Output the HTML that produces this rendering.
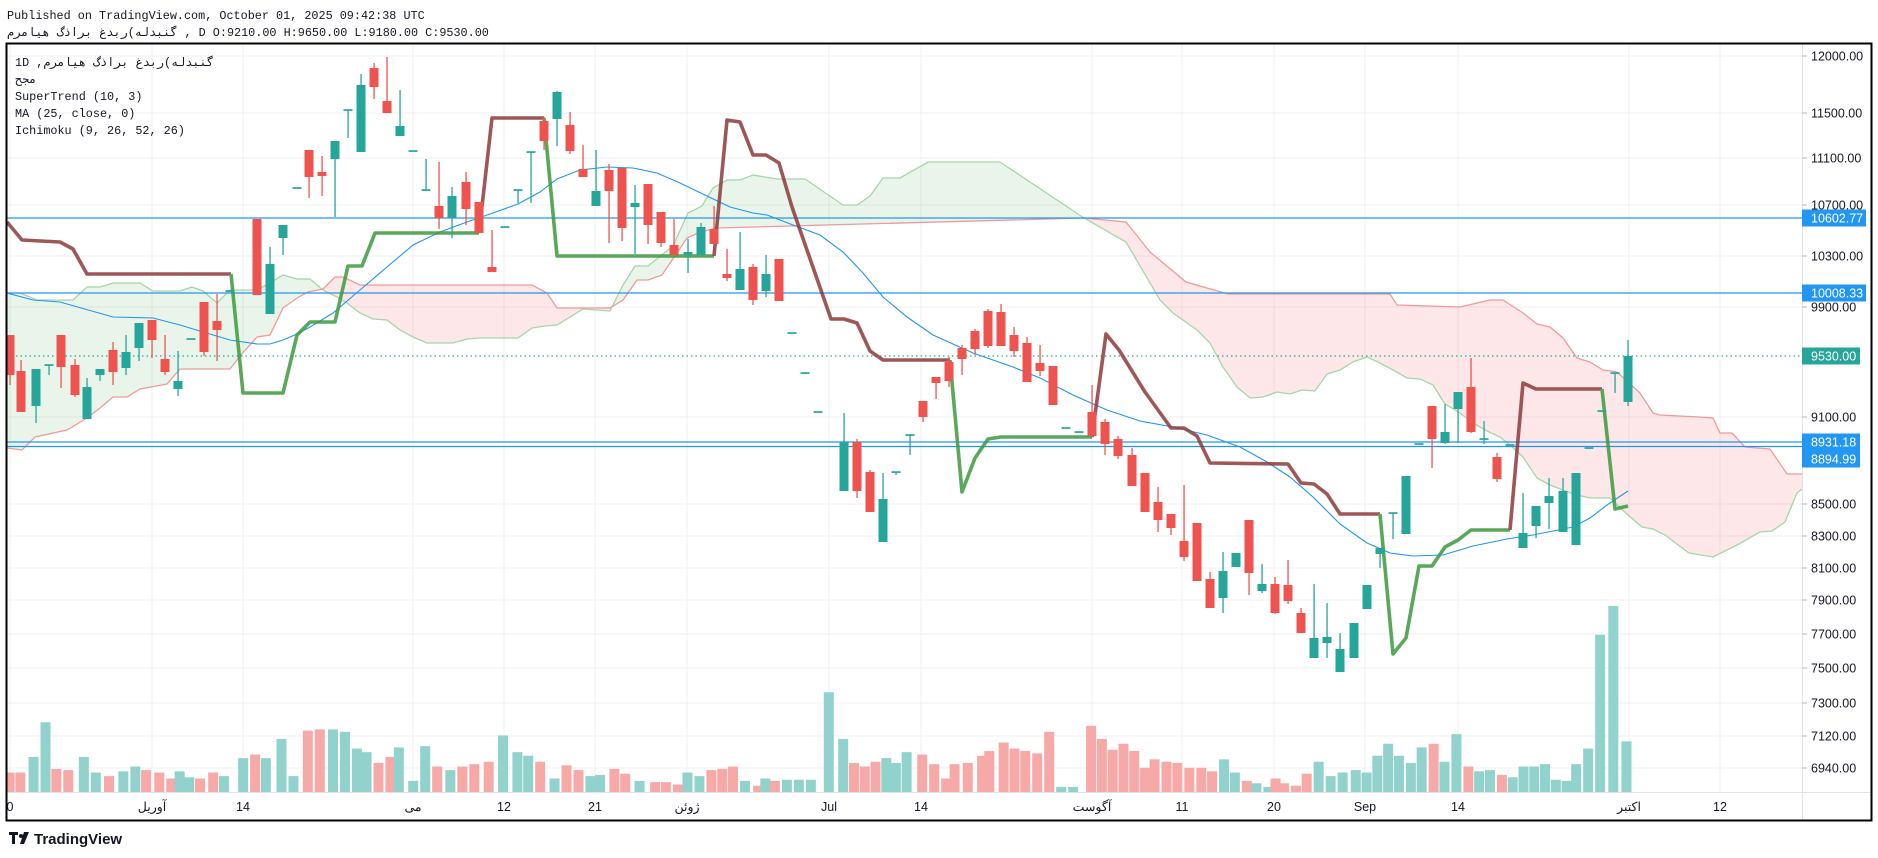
<!DOCTYPE html>
<html><head><meta charset="utf-8"><style>
html,body{margin:0;padding:0;background:#fff;}
svg{display:block;}
</style></head><body>
<svg id="s" width="1878" height="858" viewBox="0 0 1878 858" xmlns="http://www.w3.org/2000/svg" font-family="Liberation Sans, sans-serif">
<defs>
<clipPath id="plot"><rect x="7" y="44" width="1795" height="748"/></clipPath>
<clipPath id="aboveB"><polygon id="cB"/></clipPath>
<clipPath id="belowB"><polygon id="cB2"/></clipPath>
</defs>
<rect width="1878" height="858" fill="#fff"/>
<g id="grid" stroke="#f0f0f0" stroke-width="1"></g>
<g clip-path="url(#plot)">
<g id="vol"></g>
<path id="fillG" fill="rgba(76,175,80,0.12)" clip-path="url(#aboveB)"/>
<path id="fillR" fill="rgba(242,54,69,0.12)" clip-path="url(#belowB)"/>
<polyline id="lA" fill="none" stroke="#a5d6a7" stroke-width="1.3"/>
<polyline id="lB" fill="none" stroke="#ef9a9a" stroke-width="1.3"/>
<g stroke="#2196f3" stroke-width="1.3">
<line x1="7" y1="218" x2="1802" y2="218"/><line x1="7" y1="293" x2="1802" y2="293"/>
<line x1="7" y1="442" x2="1802" y2="442"/><line x1="7" y1="446.5" x2="1802" y2="446.5"/>
</g>
<line x1="7" y1="356" x2="1802" y2="356" stroke="#26a69a" stroke-width="1.2" stroke-dasharray="1.5 3"/>
<polyline id="ma" fill="none" stroke="#2196f3" stroke-width="1.1"/>
<g id="st" fill="none" stroke-width="3.6" stroke-linejoin="round" opacity="0.85"></g>
<g id="cdl"></g>
</g>
<!-- axes -->
<line x1="7" y1="792.5" x2="1871" y2="792.5" stroke="#e0e3eb"/>
<line x1="1802.5" y1="44" x2="1802.5" y2="820" stroke="#e0e3eb"/>
<rect x="6.5" y="43.5" width="1865" height="777" fill="none" stroke="#000" stroke-width="2"/>
<g id="pl" font-size="12.5" fill="#131722"></g>
<g id="tl" font-size="12.5" fill="#131722" text-anchor="middle"></g>
<g font-family="Liberation Mono, Noto Sans CJK SC, monospace" font-size="11.8" fill="#131722">
<text x="7" y="19">Published on TradingView.com, October 01, 2025 09:42:38 UTC</text>
<text x="7" y="36">گنبدله)ربدغ براذگ هیامرم , D O:9210.00 H:9650.00 L:9180.00 C:9530.00</text>
<text x="15" y="66">1D ,گنبدله)ربدغ براذگ هیامرم</text>
<text x="15" y="83">مجح</text>
<text x="15" y="100">SuperTrend (10, 3)</text>
<text x="15" y="117">MA (25, close, 0)</text>
<text x="15" y="134">Ichimoku (9, 26, 52, 26)</text>
</g>
<g transform="translate(9,832)" fill="#131722">
<path d="M0 0h9v3h-3v9h-3v-9h-3z"/><circle cx="12" cy="4" r="2"/><path d="M15 0h5l-5 12h-4z"/>
<text x="25" y="12" font-size="15" font-weight="bold">TradingView</text>
</g>
</svg>
<script>
const NS="http://www.w3.org/2000/svg";
function el(p,t,a,txt){const e=document.createElementNS(NS,t);for(const k in a)e.setAttribute(k,a[k]);if(txt!==undefined)e.textContent=txt;p.appendChild(e);return e;}
const $=id=>document.getElementById(id);
// grid
const hs=[56,113,158,205,256,307,417,504,536,568,600,634,668,703,736,768];
const vs=[10,152,243,413,504,595,687,829,921,1092,1182,1274,1365,1458,1629,1720];
hs.forEach(y=>el($('grid'),'line',{x1:7,x2:1802,y1:y,y2:y}));
vs.forEach(x=>el($('grid'),'line',{x1:x,x2:x,y1:44,y2:792}));
// price labels
const pl=[[56,'12000.00'],[113,'11500.00'],[158,'11100.00'],[205,'10700.00'],[256,'10300.00'],[307,'9900.00'],[417,'9100.00'],[504,'8500.00'],[536,'8300.00'],[568,'8100.00'],[600,'7900.00'],[634,'7700.00'],[668,'7500.00'],[703,'7300.00'],[736,'7120.00'],[768,'6940.00']];
pl.forEach(([y,t])=>{el($('pl'),'line',{x1:1802,x2:1807,y1:y,y2:y,stroke:'#b2b5be'});el($('pl'),'text',{x:1811,y:y+4.5},t);});
[[218,'10602.77','#2196f3',1866],[293,'10008.33','#2196f3',1866],[356,'9530.00','#26a69a',1860],[442,'8931.18','#2196f3',1860],[459,'8894.99','#2196f3',1860]].forEach(([y,t,c,r])=>{
 el($('pl'),'rect',{x:1802,y:y-8.5,width:r-1802,height:17,fill:c});
 el($('pl'),'text',{x:1811,y:y+4.5,fill:'#fff'},t);});
// time labels
const tl=[[10,'0'],[152,'آوریل'],[243,'14'],[413,'می'],[504,'12'],[595,'21'],[687,'ژوئن'],[829,'Jul'],[921,'14'],[1092,'آگوست'],[1182,'11'],[1274,'20'],[1365,'Sep'],[1458,'14'],[1629,'اکتبر'],[1720,'12']];
tl.forEach(([x,t])=>el($('tl'),'text',{x:x,y:811,'font-family':'Liberation Sans, Noto Sans CJK SC, sans-serif'},t));
// candles [x, top, bot, wtop, wbot, c]
const C=[
[10,335,375,335,385,'r'],[21,371,412,360,412,'r'],[36,369,406,369,423,'g'],[49,365,365,365,375,'g'],[61,335,367,335,388,'r'],[75,365,395,359,397,'r'],[87,387,419,378,419,'g'],[100,369,375,369,381,'g'],[113,350,372,342,385,'r'],[126,352,368,335,375,'g'],[139,323,348,323,361,'g'],[152,320,340,320,358,'r'],[165,359,372,335,375,'r'],[178,381,389,351,396,'g'],[191,339,339,339,339,'g'],[204,302,352,302,356,'r'],[217,321,330,294,361,'r'],[230,291,291,291,291,'g'],
[257,219,295,219,295,'r'],[270,264,314,247,314,'g'],[283,225,238,225,255,'g'],[297,188,188,188,188,'g'],[309,150,177,150,198,'r'],[322,172,176,156,196,'r'],[335,141,159,141,217,'g'],[348,110,110,110,138,'g'],[361,85,152,74,152,'g'],[374,68,87,63,99,'r'],[387,101,113,57,113,'r'],[400,126,136,90,136,'g'],[413,151,151,151,151,'g'],[426,190,190,159,190,'g'],[439,206,218,162,229,'r'],[452,196,218,187,238,'g'],
[466,182,209,172,225,'r'],[479,202,233,202,233,'r'],[492,267,272,230,272,'r'],[505,227,227,227,227,'g'],[518,190,190,190,203,'g'],[531,152,152,152,203,'g'],[544,121,141,117,150,'r'],[557,92,119,91,146,'g'],[570,125,151,112,154,'r'],[583,169,177,145,177,'r'],[596,191,206,150,206,'g'],[609,170,191,164,243,'r'],[622,168,228,168,241,'r'],[635,203,207,185,254,'g'],[648,184,225,184,244,'r'],[661,212,243,212,247,'r'],[674,245,255,219,255,'r'],[688,252,255,239,273,'g'],[701,227,255,223,255,'g'],[714,229,244,206,244,'r'],[727,274,278,249,281,'r'],[740,269,290,232,290,'g'],[753,267,300,264,305,'r'],[766,274,291,255,297,'g'],[779,259,301,259,301,'r'],[792,333,333,333,333,'g'],[805,373,373,373,373,'g'],[818,412,412,412,412,'g'],
[844,442,491,413,491,'g'],[857,442,491,439,498,'r'],[870,472,512,470,512,'r'],[883,499,542,473,542,'g'],[896,472,472,472,475,'g'],[910,435,435,435,455,'g'],[923,401,417,401,422,'r'],[936,377,383,377,399,'r'],[949,362,381,357,387,'r'],[962,348,359,345,375,'r'],[975,331,349,329,355,'r'],[988,311,346,309,348,'r'],[1001,312,346,304,346,'r'],[1014,335,351,327,357,'r'],[1027,343,382,337,382,'r'],[1040,363,371,345,376,'r'],[1053,366,405,366,405,'r'],[1066,428,428,428,428,'g'],[1079,432,432,432,432,'g'],[1092,412,436,385,436,'r'],[1105,422,444,419,455,'r'],[1118,439,456,436,459,'r'],[1132,455,486,448,486,'r'],[1145,473,512,473,512,'r'],[1158,502,520,487,532,'r'],[1171,514,528,514,535,'r'],[1184,541,557,485,561,'r'],[1197,523,581,523,581,'r'],[1210,579,608,572,608,'r'],[1223,571,598,552,613,'g'],[1236,553,567,553,567,'g'],[1249,520,573,520,595,'r'],
[1262,584,591,564,593,'g'],[1275,584,613,577,614,'r'],[1288,585,601,560,604,'r'],[1301,613,633,608,633,'r'],[1314,638,658,584,658,'g'],[1327,637,643,603,658,'g'],[1340,649,672,633,672,'g'],[1354,623,658,623,658,'g'],[1367,585,609,585,609,'g'],[1380,548,554,548,568,'g'],[1393,513,513,513,539,'g'],[1406,476,534,476,534,'g'],[1419,444,444,444,444,'g'],[1432,406,439,406,468,'r'],[1445,432,443,404,444,'g'],[1458,392,409,392,443,'g'],[1471,387,432,358,433,'r'],[1484,439,439,421,444,'g'],[1497,457,479,453,482,'r'],[1510,445,445,445,445,'g'],[1523,533,548,493,548,'g'],[1536,506,526,506,538,'g'],[1549,496,503,478,529,'g'],[1563,491,532,478,532,'g'],[1576,473,545,473,545,'g'],[1589,448,448,448,448,'g'],[1602,411,411,411,411,'g'],[1615,373,373,373,393,'g'],[1628,356,402,340,406,'g']];
const V=[[8,645],[17,645],[28,632],[38,603],[47,642],[57,643],[70,632],[80,645],[91,648],[103,644],[113,640],[122,643],[133,645],[143,650],[150,644],[158,649],[167,650],[178,645],[187,648],[203,633],[213,630],[222,633],[235,617],[245,648],[257,610],[267,609],[278,609],[288,611],[298,625],[306,628],[316,637],[326,632],[333,624],[345,652],[355,623],[365,640],[376,643],[386,640],[396,638],[408,636],[420,614],[432,628],[441,631],[451,636],[463,650],[473,639],[483,643],[493,648],[501,647],[513,642],[522,646],[534,652],[547,653],[556,653],[566,655],[574,645],[584,648],[594,643],[603,642],[612,640],[622,652],[633,656],[639,650],[647,652],[657,651],[667,651],[677,651],[692,578],[704,617],[713,637],[722,640],[731,636],[740,633],[748,637],[757,628],[770,630],[780,638],[790,650],[797,638],[808,637],[820,631],[826,627],[838,620],[847,625],[856,627],[866,629],[876,611],[886,657],[896,657],[911,606],[920,617],[929,626],[938,621],[947,627],[956,641],[964,634],[974,636],[983,637],[993,641],[1003,641],[1012,644],[1022,634],[1031,645],[1041,652],[1049,654],[1059,657],[1065,650],[1072,654],[1082,656],[1091,646],[1101,636],[1111,648],[1121,645],[1132,643],[1141,645],[1150,631],[1159,621],[1168,631],[1178,637],[1187,624],[1197,621],[1206,636],[1216,613],[1226,640],[1235,644],[1244,643],[1254,647],[1263,649],[1272,640],[1281,640],[1290,638],[1299,651],[1308,652],[1316,638],[1326,625],[1336,530],[1347,506],[1358,619]];
const s=1878/1568;
V.forEach(([dx,dy])=>{const x=dx*s,top=dy*s;let best=C[0],bd=1e9;C.forEach(c=>{const d=Math.abs(c[0]-x);if(d<bd){bd=d;best=c;}});
 el($('vol'),'rect',{x:x-5,y:top,width:10,height:792-top,fill:best[5]=='g'?'#92d2cc':'#f7a9a7'});});
C.forEach(([x,t,b,wt,wb,c])=>{const col=c=='g'?'#26a69a':'#ef5350';
 el($('cdl'),'rect',{x:x-0.6,y:wt,width:1.3,height:Math.max(wb-wt,0.1),fill:col});
 if(b-t<1.5){el($('cdl'),'rect',{x:x-4.5,y:t-0.8,width:9,height:1.7,fill:col});}
 else el($('cdl'),'rect',{x:x-4.5,y:t,width:9,height:b-t,fill:col});});
// supertrend
const red='#8d3a3a',grn='#3d9a3d';
const ST=[
[red,[[7,222],[22,240],[60,242],[73,249],[87,274],[231,274]]],
[grn,[[231,274],[243,393],[283,393],[297,335],[310,322],[335,322],[348,266],[362,266],[375,233],[479,233]]],
[red,[[479,233],[492,118],[544,118]]],
[grn,[[544,118],[557,256],[714,256]]],
[red,[[714,256],[727,120],[740,122],[753,155],[766,155],[779,163],[792,207],[831,319],[844,319],[857,323],[870,351],[883,360],[950,360]]],
[grn,[[950,360],[962,492],[975,458],[988,439],[1001,437],[1092,437]]],
[red,[[1092,437],[1106,334],[1119,350],[1145,392],[1158,410],[1171,428],[1184,428],[1197,436],[1210,463],[1288,464],[1301,483],[1314,484],[1327,494],[1340,514],[1380,514]]],
[grn,[[1380,514],[1393,654],[1406,638],[1419,566],[1432,566],[1445,547],[1458,540],[1471,530],[1510,530]]],
[red,[[1510,530],[1523,383],[1536,389],[1602,389]]],
[grn,[[1602,389],[1615,509],[1628,506]]]];
ST.forEach(([c,p])=>el($('st'),'polyline',{points:p.join(' '),stroke:c}));
$('ma').setAttribute('points',[[7,293],[33,300],[60,302],[113,317],[153,318],[180,325],[203,332],[230,340],[257,344],[270,344],[283,340],[297,334],[310,327],[333,313],[360,290],[387,267],[413,245],[440,232],[467,222],[493,213],[518,204],[540,192],[557,179],[580,170],[607,167],[633,168],[657,173],[680,183],[707,196],[730,207],[753,213],[767,215],[793,225],[820,235],[843,252],[863,273],[883,297],[907,317],[933,335],[973,353],[1013,367],[1040,378],[1073,395],[1107,410],[1140,421],[1173,427],[1207,435],[1240,447],[1267,462],[1290,477],[1313,497],[1340,524],[1367,543],[1390,553],[1413,556],[1443,555],[1473,546],[1507,539],[1533,535],[1573,527],[1590,518],[1607,505],[1628,491]].join(' '));
// ichimoku
const A=[[7,293],[20,293],[37,300],[73,300],[87,287],[100,287],[113,283],[140,283],[153,291],[180,291],[192,287],[203,291],[217,303],[230,290],[257,290],[270,283],[283,275],[297,279],[310,279],[323,290],[337,297],[347,303],[360,313],[373,319],[387,320],[400,330],[413,337],[427,343],[453,343],[467,339],[480,338],[518,338],[532,328],[545,326],[557,325],[583,309],[610,311],[623,285],[635,266],[648,266],[673,246],[688,213],[702,206],[713,188],[727,180],[740,180],[753,175],[777,179],[805,179],[843,205],[857,205],[870,196],[883,178],[900,178],[928,162],[1000,162],[1084,218],[1126,242],[1160,300],[1173,313],[1197,330],[1210,343],[1223,367],[1237,387],[1250,398],[1263,397],[1277,392],[1290,394],[1302,390],[1315,391],[1327,374],[1340,370],[1353,362],[1367,357],[1380,363],[1393,370],[1407,378],[1420,379],[1433,385],[1445,404],[1460,413],[1473,423],[1487,431],[1500,437],[1510,445],[1523,457],[1537,478],[1550,485],[1563,490],[1577,495],[1590,498],[1610,498],[1628,515],[1642,527],[1653,529],[1665,535],[1689,553],[1713,557],[1737,545],[1760,532],[1772,531],[1785,522],[1797,493],[1802,489]];
const B=[[7,448],[22,450],[35,437],[67,430],[87,418],[100,408],[113,397],[127,397],[140,389],[167,384],[180,369],[230,369],[240,356],[257,337],[270,335],[283,308],[297,298],[308,292],[323,289],[335,277],[343,277],[360,285],[532,285],[547,293],[557,308],[610,308],[623,300],[637,280],[648,280],[662,275],[687,238],[700,232],[717,228],[1084,218],[1126,222],[1150,252],[1186,282],[1228,294],[1390,294],[1397,305],[1460,307],[1490,300],[1503,300],[1523,313],[1537,324],[1550,327],[1563,338],[1577,358],[1590,362],[1603,370],[1617,372],[1640,393],[1653,413],[1660,415],[1700,417],[1713,418],[1720,433],[1732,433],[1745,447],[1770,449],[1787,474],[1802,474]];
$('lA').setAttribute('points',A.join(' '));$('lB').setAttribute('points',B.join(' '));
$('cB').setAttribute('points',B.join(' ')+' 1802,0 7,0');
$('cB2').setAttribute('points',B.join(' ')+' 1802,900 7,900');
$('fillG').setAttribute('d','M'+A.join(' L')+' L1802,900 L7,900Z');
$('fillR').setAttribute('d','M'+A.join(' L')+' L1802,0 L7,0Z');
</script>
</body></html>
